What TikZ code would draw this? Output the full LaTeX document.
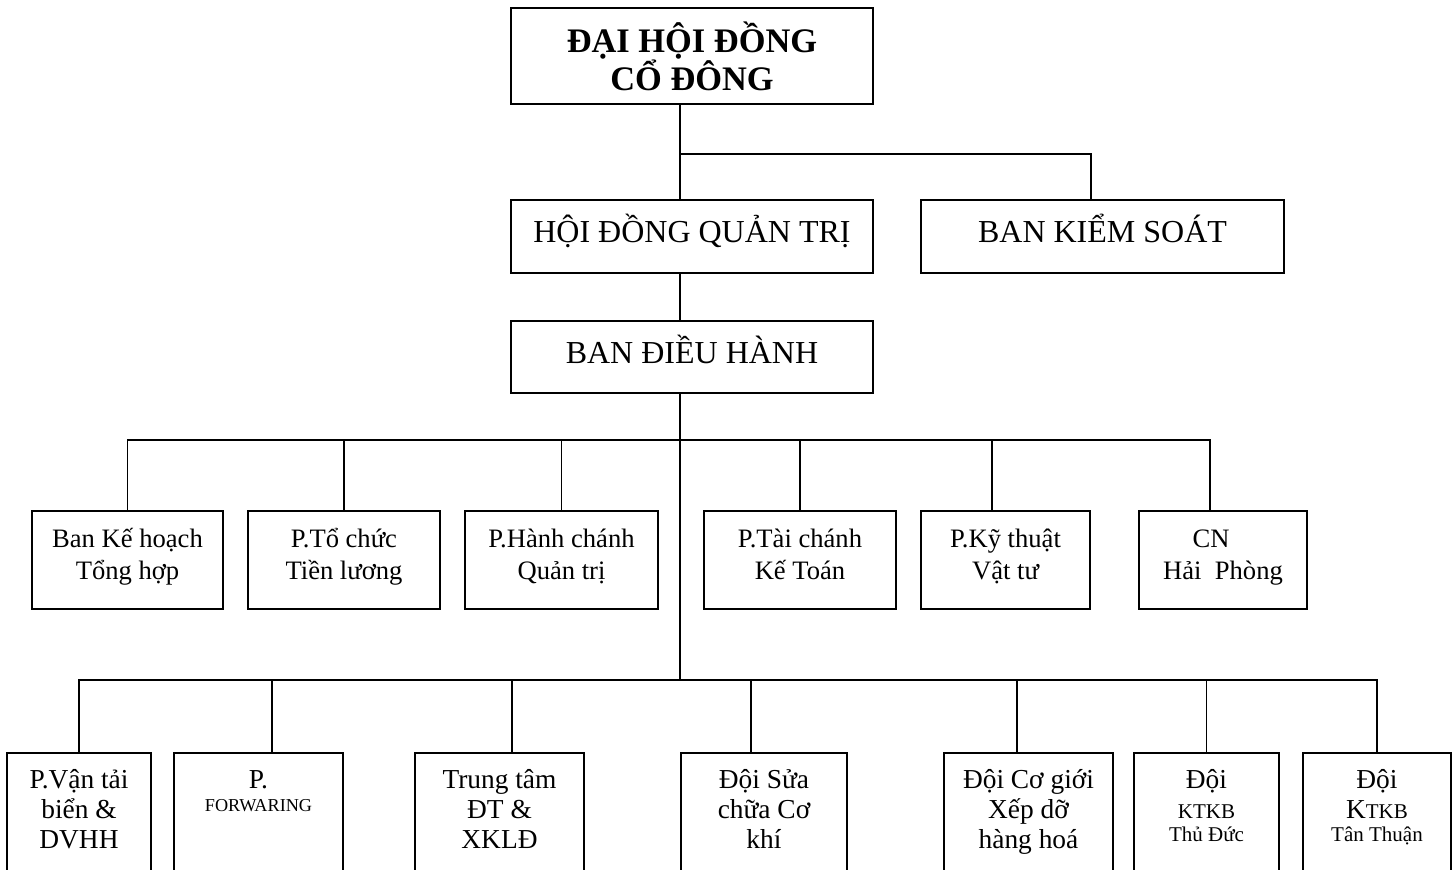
\documentclass[tikz,border=0pt]{standalone}
\usepackage{fontspec}
\setmainfont{Liberation Serif}
\newcommand{\lowtext}[2]{\parbox[t][70pt][t]{#1}{\centering\rule{0pt}{17.5pt}#2}}
\newcommand{\midlines}[2]{\rule{0pt}{12pt}#1\\#2\rule[-9pt]{0pt}{9pt}}
\newcommand{\lowsmall}{\fontsize{10.5}{12}\selectfont}
\tikzset{
  box/.style={draw, line width=1.2pt, inner sep=0pt, align=center},
  topbox/.style={box, font=\bfseries\fontsize{17.2}{19}\selectfont},
  headbox/.style={box, text height=11pt, text depth=5pt, font=\fontsize{16}{19}\selectfont},
  midbox/.style={box, minimum height=49pt, font=\fontsize{13.3}{16}\selectfont},
  lowbox/.style={box, anchor=north, font=\fontsize{13.7}{15}\selectfont},
  link/.style={line width=0.9pt},
}
\begin{document}
\begin{tikzpicture}[x=0.5pt, y=-0.5pt]
\useasboundingbox (0,0) rectangle (1453,869);
\clip (0,0) rectangle (1453,869);
\node[topbox, minimum width=181pt, minimum height=48pt] (dhd) at (692,56) {ĐẠI HỘI ĐỒNG\\CỔ ĐÔNG};
\node[headbox, minimum width=181pt, minimum height=36.5pt] (hdqt) at (692,236.5) {HỘI ĐỒNG QUẢN TRỊ};
\node[headbox, minimum width=181.5pt, minimum height=36.5pt] (bks) at (1102.5,236.5) {BAN KIỂM SOÁT};
\node[headbox, minimum width=181pt, minimum height=36pt] (bdh) at (692,357) {BAN ĐIỀU HÀNH};
\coordinate (midbus) at (680,440);
\coordinate (lowbus) at (680,680);
\draw[link] ([xshift=-6pt]dhd.south) -- ([xshift=-6pt]hdqt.north);
\draw[link] ([xshift=-5.75pt]bks.north) |- ([xshift=-6pt,yshift=-24.5pt]dhd.south);
\draw[link] ([xshift=-6pt]hdqt.south) -- ([xshift=-6pt]bdh.north);
\draw[link] ([xshift=-6pt]bdh.south) -- (lowbus);
\node[midbox, minimum width=95.5pt] (kh) at (127.5,560) {\midlines{Ban Kế hoạch}{Tổng hợp}};
\node[midbox, minimum width=96pt] (tc) at (344,560) {\midlines{P.Tổ chức}{Tiền lương}};
\node[midbox, minimum width=96.5pt] (hc) at (561.5,560) {\midlines{P.Hành chánh}{Quản trị}};
\node[midbox, minimum width=96pt] (tckt) at (800,560) {\midlines{P.Tài chánh}{Kế Toán}};
\node[midbox, minimum width=84.5pt] (ktvt) at (1005.5,560) {\midlines{P.Kỹ thuật}{Vật tư}};
\node[midbox, minimum width=84pt] (cn) at (1223,560) {\midlines{CN\hspace*{12pt}}{Hải\ \ Phòng}};
\draw[link] (kh.north) |- (midbus);
\draw[link] (tc.north) |- (midbus);
\draw[link] (hc.north) |- (midbus);
\draw[link] (tckt.north) |- (midbus);
\draw[link] ([xshift=-6.75pt]ktvt.north) |- (midbus);
\draw[link] ([xshift=-6.5pt]cn.north) |- (midbus);
\node[lowbox] (vt) at (79,752) {\lowtext{72pt}{P.Vận tải\\biển \&\\DVHH}};
\node[lowbox] (fwd) at (258.5,752) {\lowtext{84.5pt}{P.\\[-3.5pt]{\fontsize{9.1}{11}\selectfont FORWARING}}};
\node[lowbox] (tt) at (499.5,752) {\lowtext{84.5pt}{Trung tâm\\ĐT \&\\XKLĐ}};
\node[lowbox] (sc) at (764,752) {\lowtext{83pt}{Đội Sửa\\chữa Cơ\\khí}};
\node[lowbox] (cg) at (1028.5,752) {\lowtext{84.5pt}{Đội Cơ giới\\Xếp dỡ\\hàng hoá}};
\node[lowbox] (td) at (1206.5,752) {\lowtext{72.5pt}{Đội\\{\lowsmall KTKB}\\[-3.5pt]{\lowsmall Thủ Đức}}};
\node[lowbox] (tth) at (1377,752) {\lowtext{74pt}{Đội\\K{\lowsmall TKB}\\[-3.5pt]{\lowsmall Tân Thuận}}};
\draw[link] (vt.north) |- (lowbus);
\draw[link] ([xshift=6.75pt]fwd.north) |- (lowbus);
\draw[link] ([xshift=6.25pt]tt.north) |- (lowbus);
\draw[link] ([xshift=-6.5pt]sc.north) |- (lowbus);
\draw[link] ([xshift=-5.75pt]cg.north) |- (lowbus);
\draw[link] (td.north) |- (lowbus);
\draw[link] (tth.north) |- (lowbus);
\end{tikzpicture}
\end{document}
